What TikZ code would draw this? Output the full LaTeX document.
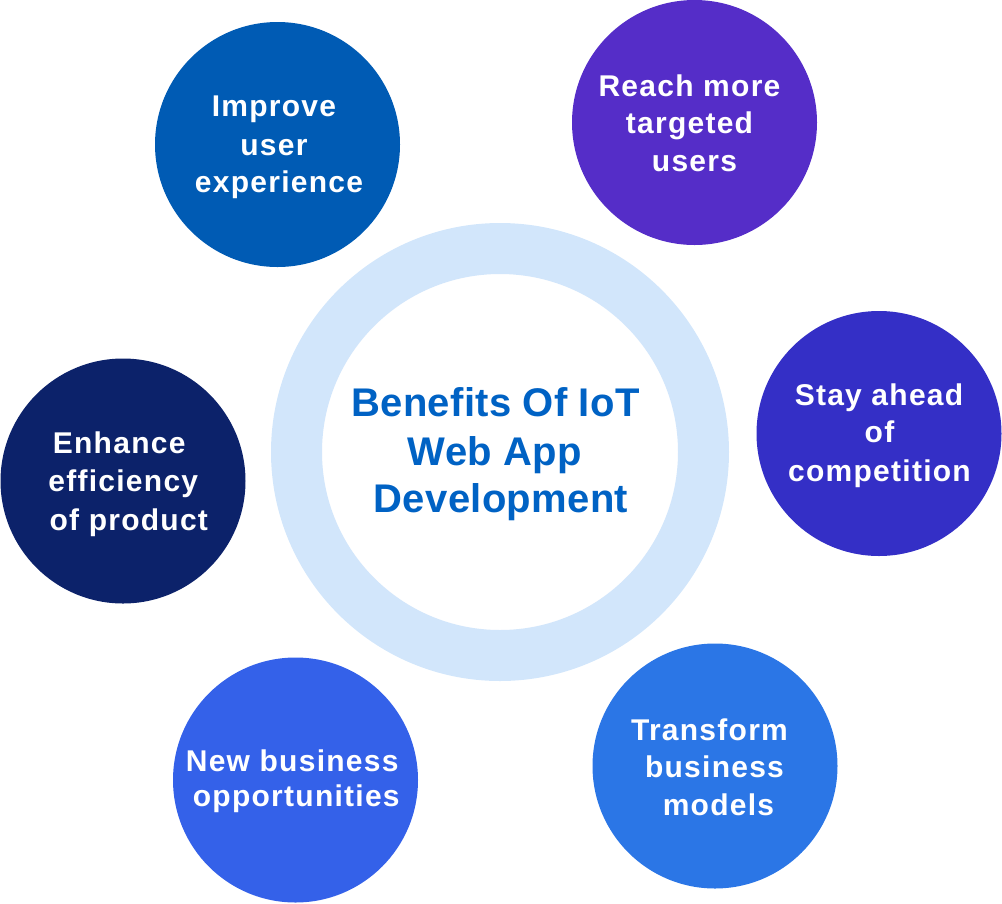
\documentclass[tikz,border=0pt]{standalone}
\usepackage{fontspec}
\setmainfont{Liberation Sans}
\newfontfamily\bubblefont[LetterSpace=4.2]{Liberation Sans}
\newfontfamily\hubfont[LetterSpace=0.8]{Liberation Sans}
\definecolor{cone}{HTML}{005BB4}
\definecolor{ctwo}{HTML}{552DC8}
\definecolor{cthree}{HTML}{342FC6}
\definecolor{cfour}{HTML}{0C226A}
\definecolor{cfive}{HTML}{3461E9}
\definecolor{csix}{HTML}{2B76E6}
\definecolor{ringc}{HTML}{D2E6FB}
\definecolor{hubtext}{HTML}{0062C4}
\begin{document}
\begin{tikzpicture}[x=1pt,y=-1pt,
  bubble/.style={circle, inner sep=0pt, outer sep=0pt, minimum size=245pt, draw=none},
  btext/.style={anchor=base, inner sep=0pt, text=white, font=\bubblefont\bfseries\fontsize{30}{36}\selectfont},
  htext/.style={anchor=base, inner sep=0pt, text=hubtext, font=\hubfont\bfseries\fontsize{40}{48}\selectfont},
  hubring/.style={circle, inner sep=0pt, outer sep=0pt, minimum size=407pt, draw=ringc, line width=51pt, fill=white}]
\useasboundingbox (0,0) rectangle (1002,903);
\node[hubring] (hub) at (500,452) {};
\node[bubble, fill=cone] (b1) at (277.5,144.5) {};
\node[bubble, fill=ctwo] (b2) at (694.5,122.5) {};
\node[bubble, fill=cthree] (b3) at (879,433.5) {};
\node[bubble, fill=cfour] (b4) at (123,481) {};
\node[bubble, fill=cfive] (b5) at (295.5,780) {};
\node[bubble, fill=csix] (b6) at (715,766) {};
% hub text
\node[htext] (h1) at (495.5,416.7) {Benefits Of IoT};
\node[htext] (h2) at (495,465) {Web App};
\node[htext] (h3) at (501,512.7) {Development};
% bubble 1
\node[btext] (t1a) at (274,116.7) {Improve};
\node[btext] (t1b) at (274,155) {user};
\node[btext] (t1c) at (279,192.7) {experience};
% bubble 2
\node[btext] (t2a) at (689.5,96) {Reach more};
\node[btext] (t2b) at (689.5,133) {targeted};
\node[btext] (t2c) at (694.5,171.7) {users};
% bubble 3
\node[btext] (t3a) at (879,405) {Stay ahead};
\node[btext] (t3b) at (879.5,442.7) {of};
\node[btext] (t3c) at (879.5,481.7) {competition};
% bubble 4
\node[btext] (t4a) at (119.2,453.3) {Enhance};
\node[btext] (t4b) at (123.3,491.7) {efficiency};
\node[btext] (t4c) at (128.8,530) {of product};
% bubble 5
\node[btext] (t5a) at (292.2,771.3) {New business};
\node[btext] (t5b) at (296.3,806.7) {opportunities};
% bubble 6
\node[btext] (t6a) at (709.5,740) {Transform};
\node[btext] (t6b) at (714.5,777.7) {business};
\node[btext] (t6c) at (718.5,815) {models};
\end{tikzpicture}
\end{document}
